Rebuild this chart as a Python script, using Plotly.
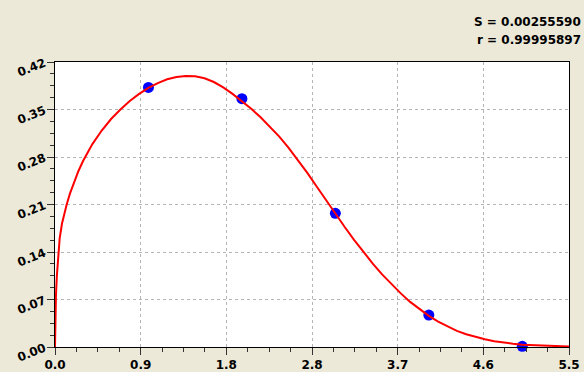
import numpy as np
import plotly.graph_objects as go

# observed data points
pts_x = [1.0, 2.0, 3.0, 4.0, 5.0]
pts_y = [0.3825, 0.366, 0.197, 0.047, 0.001]

# fitted curve
curve_x = [0, 0.002, 0.005, 0.01, 0.02, 0.032, 0.05, 0.075, 0.1, 0.125, 0.16, 0.2, 0.25, 0.3,
           0.35, 0.4, 0.5, 0.6, 0.7, 0.8, 0.9, 1.0, 1.1, 1.2, 1.3, 1.4, 1.5, 1.6, 1.7, 1.8,
           1.9, 2.0, 2.1, 2.2, 2.3, 2.4, 2.5, 2.6, 2.7, 2.8, 2.9, 3.0, 3.1, 3.2, 3.3, 3.4,
           3.5, 3.6, 3.7, 3.8, 3.9, 4.0, 4.1, 4.2, 4.3, 4.4, 4.5, 4.6, 4.7, 4.8, 4.9, 5.0,
           5.2, 5.4, 5.5]
curve_y = [0, 0.04, 0.06, 0.075, 0.105, 0.135, 0.16, 0.182, 0.198, 0.21, 0.226, 0.242, 0.259,
           0.274, 0.287, 0.299, 0.319, 0.336, 0.350, 0.3625, 0.373, 0.382, 0.389, 0.3945, 0.398,
           0.3995, 0.399, 0.396, 0.3905, 0.3825, 0.373, 0.3625, 0.351, 0.3385, 0.325, 0.310,
           0.2935, 0.2755, 0.2565, 0.2365, 0.2163, 0.1963, 0.1768, 0.158, 0.140, 0.123, 0.107,
           0.0925, 0.079, 0.0665, 0.0555, 0.0458, 0.0373, 0.030, 0.0238, 0.0188, 0.0147,
           0.0113, 0.0086, 0.0065, 0.0048, 0.0035, 0.0019, 0.0009, 0.0006]

x_tick_labels = ["0.0", "0.9", "1.8", "2.8", "3.7", "4.6", "5.5"]
y_tick_labels = ["0.00", "0.07", "0.14", "0.21", "0.28", "0.35", "0.42"]
stats_lines = ["S = 0.00255590", "r = 0.99995897"]

x_max = 5.5
y_max = 0.42
x_tickvals = list(np.linspace(0, x_max, len(x_tick_labels)))
y_tickvals = list(np.linspace(0, y_max, len(y_tick_labels)))

FONT = "DejaVu Sans, Verdana, sans-serif"
BG = "#ECE9D8"

fig = go.Figure()
fig.add_trace(go.Scatter(x=pts_x, y=pts_y, mode="markers",
                         marker=dict(color="#0000FF", size=11, line=dict(width=0)),
                         cliponaxis=False, hoverinfo="skip"))
fig.add_trace(go.Scatter(x=curve_x, y=curve_y, mode="lines",
                         line=dict(color="#FF0000", width=2),
                         hoverinfo="skip"))

axis_common = dict(
    showline=True, linecolor="#000000", linewidth=1, mirror=True,
    showgrid=True, gridcolor="#B4B4B4", griddash="3px,3px", gridwidth=1,
    zeroline=False, ticks="outside", ticklen=7, tickwidth=1, tickcolor="#333333",
    tickfont=dict(family=FONT, size=12, color="#000000", weight="bold"),
    automargin=False,
)

fig.update_xaxes(range=[0, x_max], tickmode="array", tickvals=x_tickvals,
                 ticktext=x_tick_labels,
                 minor=dict(ticks="outside", ticklen=4, tickcolor="#333333",
                            tick0=0, dtick=x_max / 24, showgrid=False),
                 **axis_common)
fig.update_yaxes(range=[0, y_max], tickmode="array", tickvals=y_tickvals,
                 ticktext=y_tick_labels, tickangle=-22,
                 minor=dict(ticks="outside", ticklen=4, tickcolor="#333333",
                            tick0=0, dtick=y_max / 24, showgrid=False),
                 **axis_common)

plot_top, plot_h, plot_left, plot_w = 62, 285, 55, 514
for line_text, y_px in zip(stats_lines, [22, 40]):
    fig.add_annotation(xref="paper", yref="paper", x=(583 - plot_left) / plot_w,
                       y=1 + (plot_top - y_px) / plot_h, xanchor="right",
                       yanchor="middle", align="right", showarrow=False,
                       text=line_text,
                       font=dict(family=FONT, size=12, color="#000000", weight="bold"))

fig.update_layout(width=584, height=372, margin=dict(l=55, r=15, t=62, b=25),
                  paper_bgcolor=BG, plot_bgcolor="#FFFFFF", showlegend=False)

fig.write_html("out.html")
